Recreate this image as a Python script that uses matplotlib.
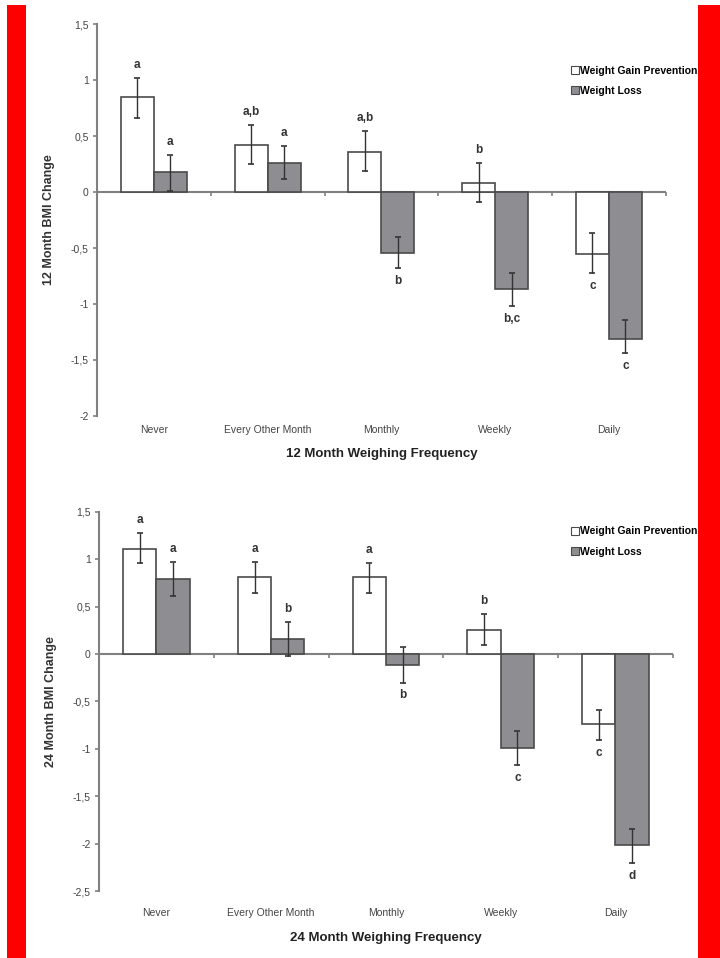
import matplotlib
matplotlib.use("Agg")
import matplotlib.pyplot as plt
from matplotlib.patches import Patch, Rectangle
import numpy as np

plt.rcParams['font.family'] = ['Liberation Sans', 'DejaVu Sans']

categories = ["Never", "Every Other Month", "Monthly", "Weekly", "Daily"]
series_names = ["Weight Gain Prevention", "Weight Loss"]

# 12 month panel
wgp_12 = [0.85, 0.42, 0.36, 0.08, -0.55]
wgp_12_hi = [1.02, 0.60, 0.545, 0.26, -0.37]
wgp_12_lo = [0.66, 0.25, 0.19, -0.09, -0.72]
wl_12 = [0.18, 0.26, -0.54, -0.87, -1.31]
wl_12_hi = [0.33, 0.41, -0.40, -0.72, -1.14]
wl_12_lo = [0.01, 0.12, -0.68, -1.02, -1.44]
wgp_12_letters = ["a", "a,b", "a,b", "b", "c"]
wl_12_letters = ["a", "a", "b", "b,c", "c"]

# 24 month panel
wgp_24 = [1.11, 0.81, 0.81, 0.25, -0.74]
wgp_24_hi = [1.28, 0.97, 0.96, 0.42, -0.59]
wgp_24_lo = [0.96, 0.65, 0.64, 0.10, -0.91]
wl_24 = [0.79, 0.16, -0.11, -0.99, -2.01]
wl_24_hi = [0.97, 0.34, 0.07, -0.81, -1.85]
wl_24_lo = [0.61, -0.02, -0.30, -1.17, -2.20]
wgp_24_letters = ["a", "a", "a", "b", "c"]
wl_24_letters = ["a", "b", "b", "c", "d"]

yticks_12 = [1.5, 1, 0.5, 0, -0.5, -1, -1.5, -2]
yticks_24 = [1.5, 1, 0.5, 0, -0.5, -1, -1.5, -2, -2.5]

EDGE = "#4a4a4a"
GRAY = "#8e8e92"
AXC = "#808080"

fig = plt.figure(figsize=(7.2, 9.58), dpi=100)


def fmt(v):
    s = ("%g" % v).replace(".", ",")
    return s


def panel(rect, wgp, wgp_hi, wgp_lo, wl, wl_hi, wl_lo, l1, l2, yticks, ylab, xlab,
          leg_y, xpad):
    ax = fig.add_axes(rect)
    x = np.arange(len(categories))
    w = 0.29
    for vals, hi, lo, letters, off, col in [
        (wgp, wgp_hi, wgp_lo, l1, -w / 2, "white"),
        (wl, wl_hi, wl_lo, l2, w / 2, GRAY),
    ]:
        ax.bar(x + off, vals, width=w, color=col, edgecolor=EDGE, linewidth=1.2, zorder=2)
        v = np.array(vals)
        yerr = [v - np.array(lo), np.array(hi) - v]
        ax.errorbar(x + off, v, yerr=yerr, fmt="none", ecolor="#333333",
                    elinewidth=1.0, capsize=2.5, capthick=1.2, zorder=3)
        for xi, vi, h, l, t in zip(x + off, vals, hi, lo, letters):
            if vi >= 0:
                ax.annotate(t, (xi, h), xytext=(0, 5), textcoords="offset points",
                            ha="center", va="bottom", fontsize=8.5, fontweight="bold",
                            color="#333333")
            else:
                ax.annotate(t, (xi, l), xytext=(0, -5), textcoords="offset points",
                            ha="center", va="top", fontsize=8.5, fontweight="bold",
                            color="#333333")
    ax.axhline(0, color=AXC, linewidth=1.5, zorder=1)
    bounds = np.arange(len(categories)) + 0.5
    ax.plot(bounds, np.zeros_like(bounds), linestyle="none", marker=3,
            markersize=3, color=AXC, markeredgewidth=1.2, clip_on=False)
    ax.set_xlim(-0.5, len(categories) - 0.5)
    ax.set_ylim(min(yticks), max(yticks))
    ax.set_yticks(yticks)
    ax.set_yticklabels([fmt(t) for t in yticks])
    ax.set_xticks(x)
    ax.set_xticklabels(categories)
    ax.tick_params(axis="x", length=0, pad=xpad, labelsize=7.5, labelcolor="#444444")
    ax.tick_params(axis="y", length=3, width=1.2, color=AXC, labelsize=7.5,
                   labelcolor="#444444", pad=3)
    for s in ["top", "right", "bottom"]:
        ax.spines[s].set_visible(False)
    ax.spines["left"].set_color(AXC)
    ax.spines["left"].set_linewidth(1.5)
    ax.set_ylabel(ylab, fontsize=9, fontweight="bold", color="#333333", labelpad=11)
    ax.set_xlabel(xlab, fontsize=9.5, fontweight="bold", color="#222222", labelpad=9.5)
    handles = [Patch(facecolor="white", edgecolor=EDGE, linewidth=0.8),
               Patch(facecolor=GRAY, edgecolor=EDGE, linewidth=0.8)]
    fig.legend(handles, series_names, loc="upper left",
               bbox_to_anchor=(0.7925, leg_y), frameon=False,
               prop={"size": 7.5, "weight": "bold"}, handlelength=0.8,
               handleheight=0.8, handletextpad=0.15, labelspacing=1.0,
               borderaxespad=0, borderpad=0)
    return ax


panel([0.1347, 0.5658, 0.79, 0.409], wgp_12, wgp_12_hi, wgp_12_lo,
      wl_12, wl_12_hi, wl_12_lo, wgp_12_letters, wl_12_letters,
      yticks_12, "12 Month BMI Change", "12 Month Weighing Frequency",
      1 - 65.5 / 958, 6.5)
panel([0.1375, 0.0699, 0.797, 0.3957], wgp_24, wgp_24_hi, wgp_24_lo,
      wl_24, wl_24_hi, wl_24_lo, wgp_24_letters, wl_24_letters,
      yticks_24, "24 Month BMI Change", "24 Month Weighing Frequency",
      1 - 526.5 / 958, 12.5)

# red side strips
fig.patches.append(Rectangle((7 / 720, 0), 19 / 720, 1 - 5 / 958, transform=fig.transFigure,
                             facecolor="#ff0000", edgecolor="none", zorder=10))
fig.patches.append(Rectangle((698 / 720, 0), 22 / 720, 1 - 5 / 958, transform=fig.transFigure,
                             facecolor="#ff0000", edgecolor="none", zorder=10))

fig.savefig("out.png", dpi=100)
